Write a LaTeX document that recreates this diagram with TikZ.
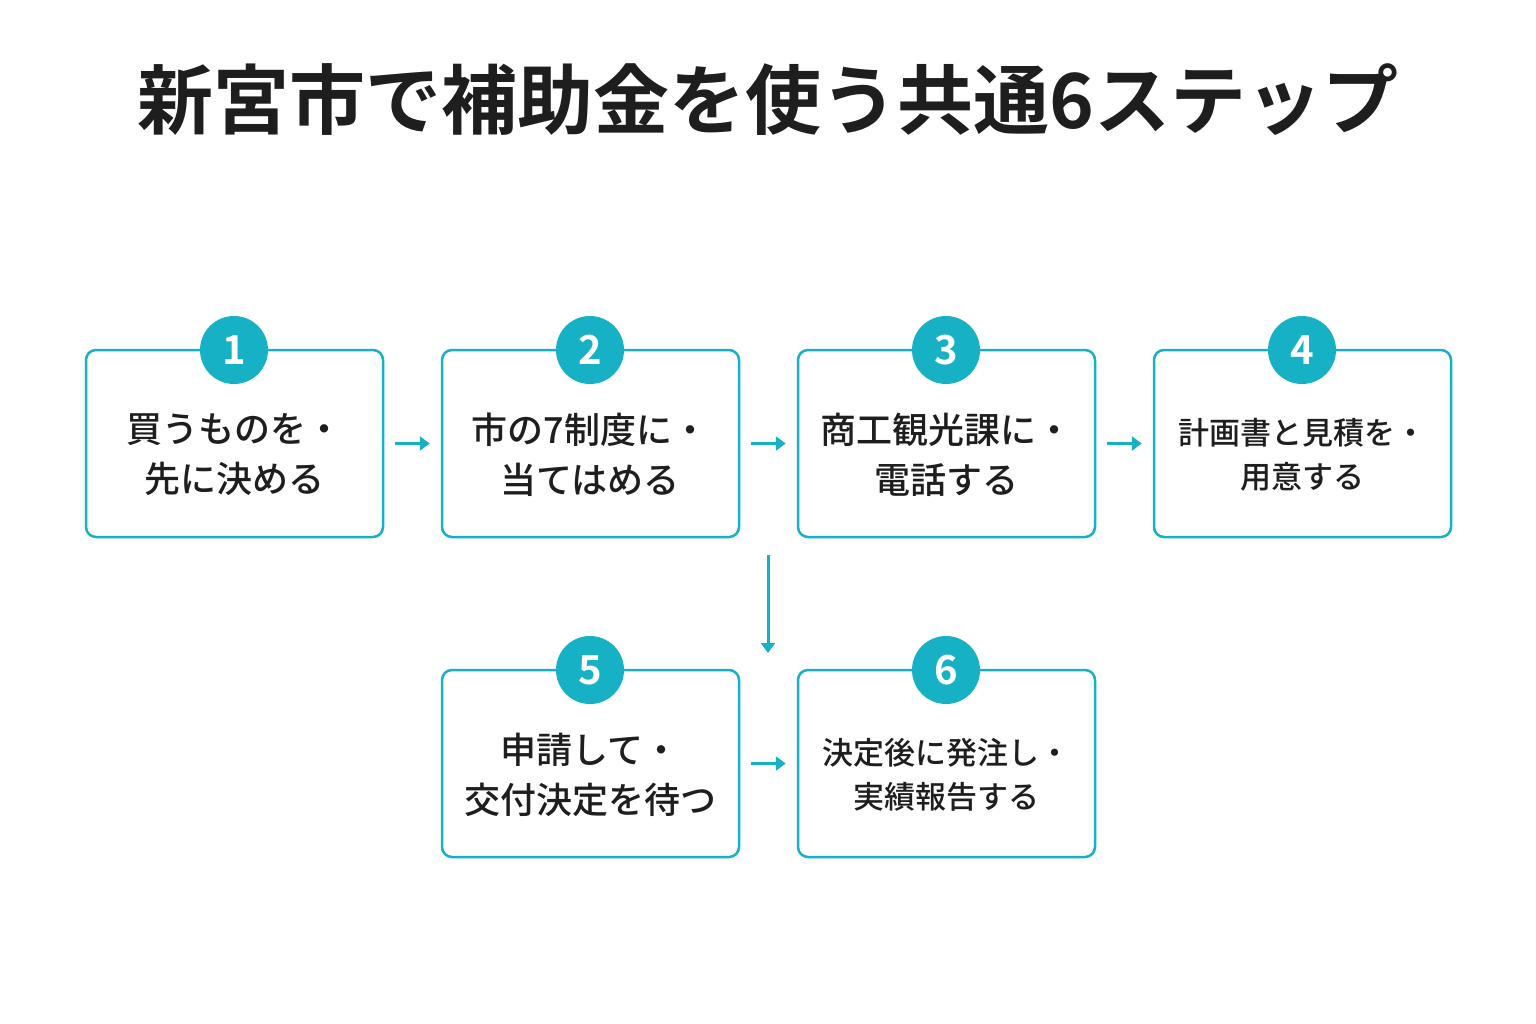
\documentclass[tikz,border=0pt]{standalone}
\usepackage{fontspec}
\newfontfamily\cjk{Noto Sans CJK JP Bold}
\newfontfamily\cjkm{Noto Sans CJK JP Medium}
\usetikzlibrary{arrows.meta}
\definecolor{teal1}{HTML}{17B1C6}
\definecolor{ink}{HTML}{1E1E1E}
\begin{document}
\begin{tikzpicture}[x=1pt,y=-1pt,
 box/.style={draw=teal1,line width=2.5pt,rounded corners=10pt,minimum width=297pt,minimum height=187pt,fill=white},
 num/.style={circle,fill=teal1,minimum size=68pt,inner sep=0pt,text=white,font=\cjk\fontsize{40}{40}\selectfont},
 lab/.style={align=center,text=ink,font=\cjkm\fontsize{36}{50}\selectfont},
 labs/.style={align=center,text=ink,font=\cjkm\fontsize{31}{44}\selectfont},
 arr/.style={-{Triangle[length=10pt,width=14pt]},teal1,line width=3pt,shorten <=11pt,shorten >=11pt}]
\useasboundingbox (0,0) rectangle (1536,1024);
\node[text=ink,font=\cjk\fontsize{76}{76}\selectfont] (title) at (768,100) {新宮市で補助金を使う共通6ステップ};
\node[box] (b1) at (234.5,443.5) {};
\node[box] (b2) at (590.5,443.5) {};
\node[box] (b3) at (946.5,443.5) {};
\node[box] (b4) at (1302.5,443.5) {};
\node[box] (b5) at (590.5,763.5) {};
\node[box] (b6) at (946.5,763.5) {};
\node[lab] (t1) at (234,455) {買うものを・\\先に決める};
\node[lab] (t2) at (590,455) {市の7制度に・\\当てはめる};
\node[lab] (t3) at (946,455) {商工観光課に・\\電話する};
\node[labs] (t4) at (1302,455) {計画書と見積を・\\用意する};
\node[lab] (t5) at (590,775) {申請して・\\交付決定を待つ};
\node[labs] (t6) at (946,775) {決定後に発注し・\\実績報告する};
\node[num] (n1) at (234,350) {1};
\node[num] (n2) at (590,350) {2};
\node[num] (n3) at (946,350) {3};
\node[num] (n4) at (1302,350) {4};
\node[num] (n5) at (590,670) {5};
\node[num] (n6) at (946,670) {6};
\coordinate (v1) at (768,555);
\coordinate (v2) at (768,653);
\draw[arr] (b1.east) -- (b2.west);
\draw[arr] (b2.east) -- (b3.west);
\draw[arr] (b3.east) -- (b4.west);
\draw[arr] (b5.east) -- (b6.west);
\draw[arr,shorten <=0pt,shorten >=0pt] (v1) -- (v2);
\end{tikzpicture}
\end{document}
